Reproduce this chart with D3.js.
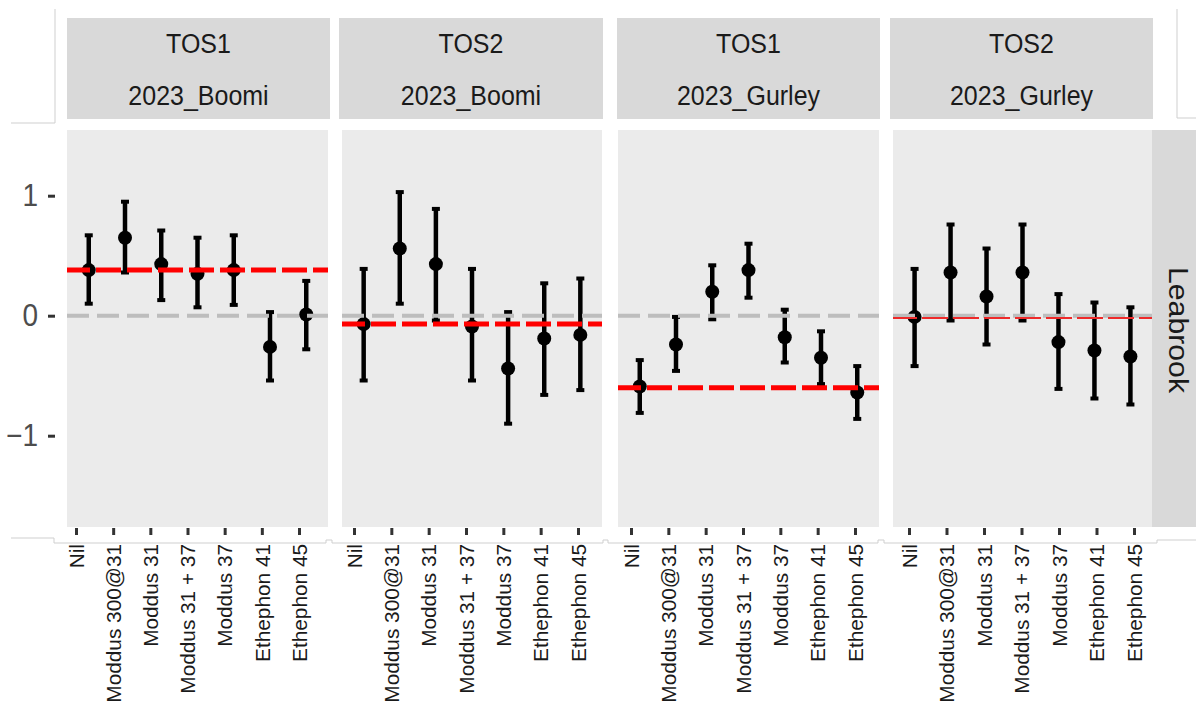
<!DOCTYPE html>
<html>
<head>
<meta charset="utf-8">
<script src="https://cdn.jsdelivr.net/npm/d3@7"></script>
<style>
  body { margin: 0; background: #fff; }
  svg { display: block; }
</style>
</head>
<body>
<script>
// treatments on x, one facet per TOS/site
const treatments = ["Nil", "Moddus 300@31", "Moddus 31", "Moddus 31 + 37", "Moddus 37", "Ethephon 41", "Ethephon 45"];
const tosLabels = ["TOS1", "TOS2", "TOS1", "TOS2"];
const siteLabels = ["2023_Boomi", "2023_Boomi", "2023_Gurley", "2023_Gurley"];
const rowLabel = "Leabrook";

const estimate = [
  [0.38, 0.65, 0.43, 0.35, 0.38, -0.26, 0.01],
  [-0.07, 0.56, 0.43, -0.09, -0.44, -0.19, -0.16],
  [-0.59, -0.24, 0.20, 0.38, -0.18, -0.35, -0.64],
  [-0.01, 0.36, 0.16, 0.36, -0.22, -0.29, -0.34]
];
const lower = [
  [0.10, 0.36, 0.13, 0.07, 0.09, -0.54, -0.28],
  [-0.54, 0.10, -0.04, -0.54, -0.90, -0.66, -0.62],
  [-0.81, -0.46, -0.03, 0.15, -0.39, -0.57, -0.86],
  [-0.42, -0.04, -0.24, -0.04, -0.61, -0.69, -0.74]
];
const upper = [
  [0.67, 0.95, 0.71, 0.65, 0.67, 0.03, 0.29],
  [0.39, 1.03, 0.89, 0.39, 0.03, 0.27, 0.31],
  [-0.37, -0.01, 0.42, 0.60, 0.05, -0.13, -0.42],
  [0.39, 0.76, 0.56, 0.76, 0.18, 0.11, 0.07]
];
const nilMean = [0.38, -0.07, -0.60, -0.02];
const yTicks = [-1, 0, 1];

const W = 1196, H = 704;
const stretch = 1.12; // picture is a bit taller than wide

// panel geometry (pasted-together screenshot, so not perfectly regular)
const panelX = [[67, 328], [342, 602], [618, 879], [893, 1152]];
const stripX = [[67, 330], [339, 603], [617, 880], [890, 1153]];
const axisRange = [[9, 232], [12, 236], [13, 237], [16, 241]];
const plotTop = 130, plotBottom = 527;

const svg = d3.select("body").append("svg")
    .attr("width", W)
    .attr("height", H);

const y = d3.scaleLinear().domain([-1, 1]).range([435.7, 195.7]);

// leftover crop borders
svg.append("path")
    .attr("d", "M11,123H55V9 M1177,9V118H1196 M11,538H54V543H326V540H332V543H603V540H608V543H878V540H884V543H1157V540H1196")
    .attr("fill", "none")
    .attr("stroke", "#cfcfcf")
    .attr("stroke-width", 1);

panelX.forEach(function(px, i) {
    const w = px[1] - px[0];
    const g = svg.append("g").attr("transform", `translate(${px[0]},0)`);

    // strip
    const sx = stripX[i];
    svg.append("rect")
        .attr("x", sx[0]).attr("y", 18)
        .attr("width", sx[1] - sx[0]).attr("height", 101)
        .attr("fill", "#d9d9d9");
    [[tosLabels[i], 53], [siteLabels[i], 105]].forEach(function(t) {
        svg.append("text")
            .attr("transform", `translate(${(sx[0] + sx[1]) / 2},${t[1]}) scale(1,${stretch})`)
            .attr("text-anchor", "middle")
            .style("font-family", "'Liberation Sans', Arial, sans-serif")
            .style("font-size", "25px")
            .style("fill", "#1a1a1a")
            .text(t[0]);
    });

    g.append("rect")
        .attr("x", 0).attr("y", plotTop)
        .attr("width", w).attr("height", plotBottom - plotTop)
        .attr("fill", "#ebebeb");

    const x = d3.scalePoint().domain(treatments).range([0, w]).padding(0.6);

    const rows = treatments.map((t, j) => ({t: t, est: estimate[i][j], lo: lower[i][j], hi: upper[i][j]}));

    // error bars
    g.selectAll(".bar").data(rows).enter().append("line")
        .attr("x1", d => x(d.t)).attr("x2", d => x(d.t))
        .attr("y1", d => y(d.lo)).attr("y2", d => y(d.hi))
        .attr("stroke", "#000").attr("stroke-width", 4.5);
    g.selectAll(".capHi").data(rows).enter().append("line")
        .attr("x1", d => x(d.t) - 4).attr("x2", d => x(d.t) + 4)
        .attr("y1", d => y(d.hi)).attr("y2", d => y(d.hi))
        .attr("stroke", "#000").attr("stroke-width", 4);
    g.selectAll(".capLo").data(rows).enter().append("line")
        .attr("x1", d => x(d.t) - 4).attr("x2", d => x(d.t) + 4)
        .attr("y1", d => y(d.lo)).attr("y2", d => y(d.lo))
        .attr("stroke", "#000").attr("stroke-width", 4);
    g.selectAll(".pt").data(rows).enter().append("circle")
        .attr("cx", d => x(d.t)).attr("cy", d => y(d.est))
        .attr("r", 7).attr("fill", "#000");

    // zero line
    g.append("line")
        .attr("x1", 0).attr("x2", w)
        .attr("y1", y(0)).attr("y2", y(0))
        .attr("stroke", "#bdbdbd").attr("stroke-width", 4)
        .attr("stroke-dasharray", "22,8");

    // Nil mean line
    const thin = i === 3;
    g.append("line")
        .attr("x1", 0).attr("x2", w)
        .attr("y1", y(nilMean[i])).attr("y2", y(nilMean[i]))
        .attr("stroke", thin ? "#ee2a2a" : "#ff0000")
        .attr("stroke-width", thin ? 2 : 5)
        .attr("stroke-dasharray", thin ? "26,5" : "25,6")
        .attr("stroke-dashoffset", 2);

    // x axis (its crop is slightly wider than the panel)
    const xa = d3.scalePoint().domain(treatments).range(axisRange[i]);
    const ax = g.append("g")
        .attr("transform", `translate(0,${plotBottom + 1})`)
        .call(d3.axisBottom(xa).tickSize(7).tickSizeOuter(0));
    ax.select(".domain").remove();
    ax.selectAll(".tick line").attr("stroke", "#333").attr("stroke-width", 3);
    ax.selectAll(".tick text")
        .attr("x", 0).attr("y", 0).attr("dy", "0.36em")
        .attr("text-anchor", "end")
        .attr("transform", "translate(0,16) scale(1,1.04) rotate(-90)")
        .style("font-family", "'Liberation Sans', Arial, sans-serif")
        .style("font-size", "20px")
        .style("fill", "#1a1a1a");
});

// y axis
const ay = svg.append("g")
    .attr("transform", "translate(55,0)")
    .call(d3.axisLeft(y).tickValues(yTicks).tickSize(7).tickPadding(10).tickFormat(d3.format("d")));
ay.select(".domain").remove();
ay.selectAll(".tick line").attr("stroke", "#333").attr("stroke-width", 3);
ay.selectAll(".tick text")
    .attr("transform", `scale(1,${stretch})`)
    .style("font-family", "'Liberation Sans', Arial, sans-serif")
    .style("font-size", "28px")
    .style("fill", "#4d4d4d");

// row strip
svg.append("rect")
    .attr("x", 1152).attr("y", plotTop)
    .attr("width", W - 1152).attr("height", plotBottom - plotTop)
    .attr("fill", "#d9d9d9");
svg.append("text")
    .attr("transform", `translate(1169,330) scale(1,${stretch}) rotate(90)`)
    .attr("text-anchor", "middle")
    .style("font-family", "'Liberation Sans', Arial, sans-serif")
    .style("font-size", "27px")
    .style("fill", "#1a1a1a")
    .text(rowLabel);
</script>
</body>
</html>
